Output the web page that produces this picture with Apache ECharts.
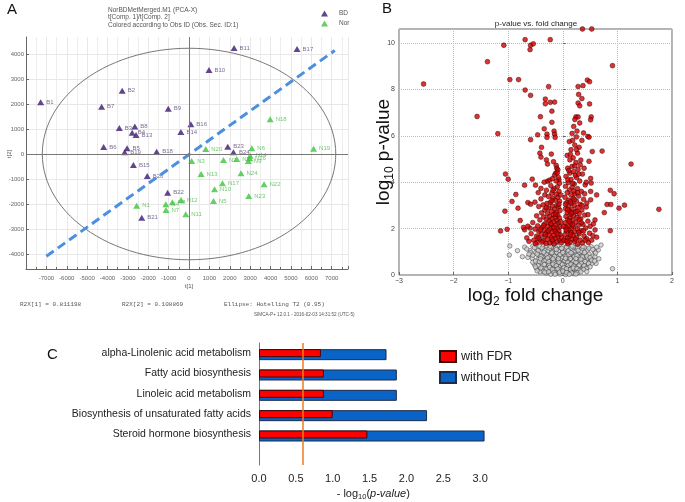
<!DOCTYPE html>
<html>
<head>
<meta charset="utf-8">
<script src="https://cdn.jsdelivr.net/npm/echarts@6/dist/echarts.min.js"></script>
<style>
html, body { margin: 0; padding: 0; background: #fff; }
#main { width: 685px; height: 502px; }
</style>
</head>
<body>
<div id="main"></div>
<script>
// ---- panel A : PCA scores ----
var bdPoints = [
	['B1', -7280, 2070], ['B2', -3280, 2530], ['B3', -3420, 1040], ['B4', -2790, 850],
	['B5', -3040, 230], ['B6', -4190, 280], ['B7', -4290, 1890], ['B8', -2660, 1100],
	['B9', -1020, 1810], ['B10', 980, 3360], ['B11', 2210, 4240], ['B19', -3160, 70],
	['B13', -2600, 760], ['B14', -400, 880], ['B15', -2730, -440], ['B16', 90, 1195],
	['B17', 5300, 4200], ['B18', -1590, 90], ['B20', -2050, -880], ['B21', -2320, -2550],
	['B22', -1050, -1550], ['B23', 1900, 290], ['B24', 2180, 70]
];
var norPoints = [
	['N1', -2570, -2070], ['N3', 130, -280], ['N5', 1200, -1880], ['N6', 3080, 230],
	['N7', -1130, -2240], ['N10', 1250, -1410], ['N11', -160, -2410], ['N12', -390, -1840],
	['N13', 590, -800], ['N14', 3000, -70], ['N17', 1640, -1170], ['N18', 3980, 1390],
	['N19', 6110, 210], ['N20', 820, 200], ['N22', 3680, -1210], ['N23', 2930, -1680],
	['N24', 2550, -770], ['N2', 1690, -240], ['N21', 2340, -200], ['N9', 2910, -280],
	['N16', 2960, -170], ['N4', -1140, -2010], ['N8', -820, -1930]
];
var diagLine = [[-7000, -4090], [7150, 4140]];
var ellipseAxes = [7200, 4230]; // Hotelling T2 (0.95)
var pcaYTicks = [-4000, -3000, -2000, -1000, 0, 1000, 2000, 3000, 4000];

// ---- panel B : volcano ----
var sigPoints = [
	[-2.55,8.23],[-1.57,6.83],[-1.38,9.19],[-1.19,6.09],[-1.08,9.9],[-0.69,10.14],[-0.59,9.9],[-0.54,9.96],
	[-0.60,9.71],[-0.23,10.14],[0.36,10.6],[0.53,10.6],[0.91,9.02],[-0.97,8.42],[-0.81,8.42],[-0.69,7.97],
	[-0.59,7.74],[-0.26,8.12],[-0.32,7.58],[-0.32,7.38],[-0.23,7.44],[-0.15,7.45],[-0.20,7.06],[0.28,8.12],
	[0.37,8.16],[0.45,8.40],[0.49,8.33],[0.29,7.78],[0.35,7.6],[0.28,7.41],[0.31,7.29],[0.49,7.37],
	[0.24,6.81],[0.28,6.81],[0.52,6.81],[0.51,6.69],[0.31,6.55],[-0.41,6.82],[-0.34,6.30],[-0.20,6.58],
	[-0.16,6.20],[-0.15,6.07],[-0.14,5.93],[-0.29,6.07],[-0.29,5.93],[-0.46,6.04],[-0.59,5.83],[-0.39,5.50],
	[-0.42,5.25],[-0.40,5.08],[-0.21,5.21],[-0.30,4.96],[-0.28,4.78],[-0.17,4.88],[-0.12,4.72],[-0.11,4.60],
	[-0.13,4.39],[-0.09,4.53],[-1.05,4.35],[-1.0,4.13],[-0.56,4.13],[-0.70,3.87],[-0.50,3.87],[-0.40,3.73],
	[-0.28,4.04],[-0.24,4.09],[-0.07,4.10],[-0.86,3.47],[-0.93,3.17],[-0.82,2.88],[-1.06,2.75],[-0.64,3.12],
	[-0.59,3.05],[-0.51,3.14],[-0.78,2.35],[-1.14,1.90],[-1.02,1.97],[0.38,6.12],[0.46,5.97],[0.48,5.94],
	[0.35,5.80],[0.54,5.32],[0.72,5.34],[1.25,4.78],[1.76,2.83],[1.03,2.88],[1.13,3.01],[0.87,3.65],
	[0.94,3.50],[0.81,3.04],[0.88,3.04],[0.76,2.69],[0.87,1.91],[0.51,4.16],[0.52,3.96],[0.51,3.60],
	[0.62,3.45],[0.51,3.24],[0.59,2.37],[0.56,2.2],[0.59,1.94],[0.62,1.63],
	[-0.15,4.3],[-0.08,4.2],[-0.19,4.15],[-0.12,4.05],[-0.34,4.0],[-0.06,3.95],
	[-0.22,3.85],[-0.1,3.8],[-0.16,3.72],[-0.3,3.65],[-0.07,3.6],[-0.45,3.55],[-0.2,3.52],[-0.12,3.48],
	[-0.33,3.45],[-0.26,3.38],[-0.09,3.35],[-0.18,3.3],[-0.4,3.28],[-0.14,3.22],[-0.06,3.18],[-0.23,3.12],
	[-0.29,3.08],[-0.36,3.02],[-0.11,3.0],[-0.19,2.97],
	[-0.44,2.95],[-0.08,2.92],[-0.26,2.88],[-0.15,2.84],[-0.33,2.8],[-0.05,2.78],[-0.21,2.74],[-0.12,2.7],
	[-0.39,2.68],[-0.28,2.64],[-0.17,2.6],[-0.09,2.57],[-0.48,2.55],[-0.24,2.52],[-0.35,2.5],
	[-0.14,2.48],[-0.06,2.45],[-0.2,2.42],[-0.3,2.4],[-0.42,2.37],[-0.11,2.35],[-0.25,2.32],[-0.17,2.28],
	[-0.55,2.26],[-0.08,2.24],[-0.33,2.2],[-0.22,2.18],[-0.13,2.15],[-0.46,2.12],[-0.28,2.1],[-0.05,2.08],
	[-0.38,2.05],[-0.18,2.03],[-0.6,2.02],[-0.1,2.0],[-0.51,1.98],
	[-0.24,1.97],[-0.34,1.94],[-0.15,1.92],[-0.07,1.9],[-0.44,1.88],[-0.2,1.85],[-0.29,1.83],[-0.12,1.8],
	[-0.58,1.78],[-0.39,1.76],[-0.05,1.74],[-0.25,1.72],[-0.17,1.7],[-0.48,1.67],[-0.33,1.65],[-0.09,1.63],
	[-0.21,1.6],[-0.14,1.57],[-0.42,1.55],[-0.28,1.53],[-0.53,1.5],[-0.06,1.48],[-0.36,1.46],[-0.19,1.44],
	[-0.11,1.42],[-0.47,1.4],[-0.24,1.38],[-0.31,1.36],[-0.16,1.34],[-0.62,1.45],[-0.66,1.6],[-0.7,1.95],
	[-0.64,2.1],[-0.72,2.05],
	[0.2,6.4],[0.17,6.1],[0.25,5.95],[0.12,5.75],[0.22,5.6],[0.3,5.5],[0.15,5.4],[0.27,5.25],[0.08,5.15],[0.19,5.05],
	[0.13,4.96],[0.17,4.68],[0.13,4.39],[0.24,4.85],[0.32,4.75],[0.09,4.6],[0.28,4.55],[0.2,4.45],[0.36,4.35],
	[0.06,4.25],[0.25,4.2],[0.15,4.12],[0.31,4.05],
	[0.1,3.98],[0.21,3.92],[0.41,3.88],[0.05,3.82],[0.17,3.78],[0.27,3.72],[0.12,3.66],[0.34,3.6],[0.08,3.55],
	[0.22,3.5],[0.15,3.45],[0.29,3.4],[0.04,3.35],[0.19,3.3],[0.38,3.26],[0.11,3.22],[0.25,3.18],[0.07,3.12],
	[0.16,3.08],[0.32,3.04],[0.21,3.0],
	[0.1,2.96],[0.43,2.93],[0.27,2.9],[0.05,2.86],[0.17,2.83],[0.35,2.8],[0.12,2.76],[0.23,2.72],[0.08,2.68],
	[0.3,2.65],[0.15,2.61],[0.4,2.58],[0.2,2.55],[0.06,2.52],[0.26,2.48],[0.13,2.45],[0.33,2.42],[0.09,2.38],
	[0.18,2.35],[0.46,2.32],[0.24,2.28],[0.04,2.25],[0.14,2.22],[0.37,2.18],[0.29,2.15],[0.1,2.12],[0.2,2.08],
	[0.06,2.05],[0.42,2.02],[0.16,2.0],
	[0.27,1.97],[0.11,1.94],[0.34,1.91],[0.07,1.88],[0.21,1.85],[0.15,1.82],[0.49,1.8],[0.3,1.77],[0.04,1.74],
	[0.19,1.71],[0.39,1.68],[0.12,1.65],[0.25,1.62],[0.08,1.59],[0.44,1.56],[0.17,1.53],[0.32,1.5],[0.05,1.47],
	[0.22,1.44],[0.13,1.41],[0.36,1.38],[0.09,1.35],[0.27,1.33],[0.47,1.4],[0.53,1.5],[0.55,1.7],[0.5,2.1],
	[0.46,2.6],[0.44,3.1],[0.4,3.5],[0.43,4.0],[0.39,4.6],[0.48,4.9],
	[-0.02,1.6],[0.01,2.1],[-0.03,1.4],[0.02,1.5],
	[-0.5,1.35],[-0.45,1.6],[-0.38,1.42],[-0.32,1.75],[-0.27,1.9],[-0.22,2.22],[-0.16,2.05],[-0.09,1.76],
	[-0.04,2.3],[-0.19,1.52],[-0.35,2.15],[-0.41,1.95],[-0.13,2.62],[-0.07,3.05],[-0.2,3.2],[-0.3,2.9],
	[-0.04,3.45],[-0.1,4.4],[-0.18,3.65],
	[0.08,1.45],[0.14,1.75],[0.18,2.15],[0.23,1.55],[0.29,1.85],[0.34,2.25],[0.38,1.9],[0.41,1.5],[0.3,2.4],
	[0.26,2.75],[0.35,3.0],[0.14,3.15],[0.09,2.82],[0.21,3.25],[0.27,3.55],[0.18,3.95],[0.23,4.3],[0.11,4.5],
	[0.33,4.95],[0.25,5.4],[0.18,5.8],[0.06,1.95],[0.12,2.32],[0.16,2.68],[0.05,3.05],[0.2,3.62],[0.09,4.1],
	[0.29,4.35],[0.22,4.7],[0.14,5.2],[0.26,6.2],[0.22,6.7]
];
var nonsigPoints = [
	[-0.55,1.25],[-0.42,1.22],[-0.3,1.27],[-0.2,1.2],[-0.1,1.25],[0.0,1.22],[0.1,1.28],[0.2,1.2],[0.3,1.25],
	[0.4,1.18],[0.52,1.22],[-0.48,1.12],[-0.36,1.1],[-0.25,1.14],[-0.15,1.08],[-0.05,1.12],[0.05,1.1],[0.15,1.15],
	[0.25,1.08],[0.35,1.12],[0.45,1.06],[-0.6,1.05],[-0.4,1.0],[-0.28,1.02],[-0.18,1.0],[-0.08,1.03],[0.02,1.0],
	[0.12,1.02],[0.22,0.98],[0.32,1.0],[0.58,1.02],
	[-0.5,0.95],[-0.33,0.93],[-0.22,0.92],[-0.12,0.95],[-0.02,0.9],[0.08,0.94],[0.18,0.9],[0.28,0.92],[0.38,0.88],
	[0.48,0.9],[-0.44,0.85],[-0.27,0.84],[-0.17,0.86],[-0.07,0.82],[0.03,0.85],[0.13,0.82],[0.23,0.86],[0.33,0.8],
	[0.55,0.82],[-0.38,0.76],[-0.21,0.75],[-0.11,0.78],[-0.01,0.74],[0.09,0.77],[0.19,0.73],[0.29,0.76],[0.42,0.74],
	[-0.56,0.72],[-0.3,0.7],
	[-0.46,0.66],[-0.24,0.66],[-0.14,0.68],[-0.04,0.64],[0.06,0.67],[0.16,0.63],[0.26,0.66],[0.36,0.62],[0.46,0.65],
	[-0.35,0.6],[-0.19,0.58],[-0.09,0.6],[0.01,0.57],[0.11,0.59],[0.21,0.56],[0.31,0.58],[0.5,0.56],[-0.4,0.52],
	[-0.27,0.5],[-0.14,0.52],[-0.04,0.49],[0.06,0.51],[0.16,0.48],[0.26,0.5],[0.4,0.47],[-0.52,0.45],[-0.21,0.43],
	[-0.09,0.44],[0.03,0.42],[0.13,0.43],[0.23,0.41],[0.34,0.44],
	[-0.38,0.38],[-0.28,0.36],[-0.16,0.37],[-0.06,0.35],[0.08,0.36],[0.18,0.34],[0.29,0.37],[0.45,0.33],[-0.33,0.3],
	[-0.22,0.28],[-0.11,0.3],[0.0,0.28],[0.11,0.29],[0.22,0.27],[0.35,0.28],[-0.44,0.24],[-0.27,0.22],[-0.15,0.23],
	[-0.03,0.21],[0.06,0.22],[0.17,0.2],[0.28,0.22],[-0.36,0.16],[-0.2,0.15],[-0.08,0.16],[0.03,0.14],[0.13,0.15],
	[0.24,0.13],[-0.3,0.09],[-0.12,0.08],[-0.01,0.07],[0.09,0.09],[0.2,0.06],[-0.22,0.03],[0.05,0.02],[-0.05,0.04],
	[-0.97,1.25],[-0.98,0.86],[-0.83,1.05],[-0.74,0.79],[-0.64,0.76],[-0.59,0.96],[-0.48,0.29],[-0.42,0.14],
	[0.61,0.5],[0.53,0.5],[0.7,1.29],[0.65,1.08],[0.59,0.79],[0.38,0.36],[0.91,0.27],[0.45,0.72],[-0.7,1.2],
	[-0.66,1.12],[0.62,1.2],[-0.55,0.55],
	[-0.52,1.18],[-0.45,1.05],[-0.38,1.16],[-0.33,1.05],[-0.23,1.24],[-0.13,1.17],[-0.02,1.15],[0.07,1.2],
	[0.17,1.24],[0.27,1.17],[0.37,1.22],[0.48,1.15],[0.55,1.1],[0.6,0.95],
	[-0.47,0.9],[-0.4,0.8],[-0.3,0.88],[-0.25,0.78],[-0.15,0.8],[-0.05,0.88],[0.06,0.8],[0.11,0.88],[0.21,0.8],
	[0.26,0.84],[0.36,0.78],[0.44,0.82],[0.5,0.75],
	[-0.5,0.6],[-0.43,0.58],[-0.31,0.64],[-0.26,0.58],[-0.17,0.62],[-0.07,0.55],[0.04,0.61],[0.09,0.54],[0.19,0.6],
	[0.24,0.54],[0.34,0.52],[0.41,0.58],[0.47,0.5],
	[-0.45,0.4],[-0.34,0.45],[-0.25,0.42],[-0.18,0.47],[-0.12,0.4],[-0.01,0.45],[0.1,0.41],[0.15,0.46],[0.2,0.38],
	[0.3,0.42],[0.39,0.4],[0.43,0.28],
	[-0.4,0.3],[-0.3,0.25],[-0.24,0.33],[-0.19,0.24],[-0.09,0.26],[0.02,0.32],[0.07,0.27],[0.14,0.24],[0.19,0.3],
	[0.26,0.28],[0.31,0.2],[0.38,0.24],
	[-0.33,0.12],[-0.26,0.14],[-0.16,0.11],[-0.06,0.12],[0.0,0.17],[0.07,0.11],[0.16,0.09],[0.27,0.1],[0.33,0.14],
	[-0.14,0.03],[0.12,0.03],[0.24,0.04],
	[-0.35,0.98],[-0.12,1.1],[0.1,1.05],[0.28,1.06],[0.4,0.97],[-0.2,0.96],[0.0,0.97],[0.15,0.96],[-0.08,0.7],
	[0.05,0.72],[0.14,0.7],[0.24,0.71],[0.33,0.68],[-0.18,0.7],[-0.28,0.74],[-0.41,0.7],[0.53,0.64],[-0.55,0.85],
	[-0.62,0.9],[0.66,0.7],[0.58,0.6],[-0.5,0.35],[0.5,0.35],[-0.47,0.18],[0.44,0.15]
];

// ---- panel C : pathways ----
var pathways = ['alpha-Linolenic acid metabolism', 'Fatty acid biosynthesis', 'Linoleic acid metabolism',
	'Biosynthesis of unsaturated fatty acids', 'Steroid hormone biosynthesis', ''];
var withFDR = [0.84, 0.88, 0.88, 1.0, 1.47, '-'];
var withoutFDR = [1.73, 1.87, 1.87, 2.28, 3.06, '-'];
var cutoff = 0.6;
var pathTicks = [0, 0.5, 1, 1.5, 2, 2.5, 3];

var chart = echarts.init(document.getElementById('main'));

function toItems(arr) {
	return arr.map(function(p) {
		return { name: p[0], value: [p[1], p[2]] };
	});
}
function plain(v) { return String(v); }

var ellipse = [];
for (var d = 0; d <= 360; d += 3) {
	var r = d * Math.PI / 180;
	ellipse.push([ellipseAxes[0] * Math.cos(r), ellipseAxes[1] * Math.sin(r)]);
}

var sans = 'Liberation Sans';

var option = {
	animation: false,
	backgroundColor: '#fff',
	legend: [{
		data: ['BD', 'Nor'],
		orient: 'vertical',
		left: 316, top: 5,
		icon: 'triangle',
		itemWidth: 7, itemHeight: 6, itemGap: 3,
		textStyle: { fontSize: 6.5, color: '#555', fontFamily: sans, padding: [0, 0, 0, 6] }
	}, {
		data: ['with FDR', 'without FDR'],
		orient: 'vertical',
		left: 434, top: 345,
		icon: 'rect',
		itemWidth: 16, itemHeight: 11, itemGap: 8,
		textStyle: { fontSize: 12.5, color: '#222', fontFamily: sans }
	}],
	grid: [
		{ left: 26, top: 37, width: 322, height: 232 },
		{ left: 399, top: 29, width: 273, height: 246, show: true, borderColor: '#666', borderWidth: 1 },
		{ left: 259, top: 343, width: 228.5, height: 124 }
	],
	xAxis: [{
		gridIndex: 0, type: 'value', min: -8000, max: 7800, interval: 1000,
		axisLine: { onZero: false, lineStyle: { color: '#666' } },
		axisTick: { inside: true, length: 3, lineStyle: { color: '#666' } },
		minorTick: { show: true, splitNumber: 2, length: 2 },
		axisLabel: { fontSize: 6, color: '#666', fontFamily: sans, showMinLabel: false, showMaxLabel: false, margin: 6, formatter: plain },
		splitLine: { show: true, lineStyle: { color: '#e2e2e2', width: 0.8 } },
		minorSplitLine: { show: true, lineStyle: { color: '#e8e8e8', width: 0.8 } }
	}, {
		gridIndex: 1, type: 'value', min: -3, max: 2, interval: 1,
		axisLine: { show: false },
		axisTick: { inside: true, length: 3, lineStyle: { color: '#666' } },
		axisLabel: { fontSize: 7, color: '#444', fontFamily: sans, margin: 3,
			formatter: function(v) { return String(v).replace('-', '\u2212'); } },
		splitLine: { show: true, lineStyle: { color: '#bbb', type: 'dotted' } },
		name: 'log{s|2} fold change', nameLocation: 'middle', nameGap: 9, nameMoveOverlap: false,
		nameTextStyle: { fontSize: 19, color: '#111', fontFamily: sans,
			rich: { s: { fontSize: 12, verticalAlign: 'bottom', padding: [12, 0, 0, 0], fontFamily: sans } } }
	}, {
		gridIndex: 2, type: 'value', min: 0, max: 3.1,
		axisLine: { lineStyle: { color: '#777' } },
		axisTick: { customValues: pathTicks, length: 4, lineStyle: { color: '#777' } },
		axisLabel: { customValues: pathTicks, fontSize: 11, color: '#222', fontFamily: sans,
			formatter: function(v) { return v.toFixed(1); } },
		splitLine: { show: false },
		name: '- log{s|10}({i|p-value})', nameLocation: 'middle', nameGap: 22,
		nameTextStyle: { fontSize: 11, color: '#222', fontFamily: sans,
			rich: { s: { fontSize: 7.5, padding: [6, 0, 0, 0], fontFamily: sans },
				i: { fontSize: 11, fontStyle: 'italic', fontFamily: sans } } }
	}],
	yAxis: [{
		gridIndex: 0, type: 'value', min: -4600, max: 4680,
		axisLine: { onZero: false, lineStyle: { color: '#666' } },
		axisTick: { customValues: pcaYTicks, inside: true, length: 3, lineStyle: { color: '#666' } },
		axisLabel: { customValues: pcaYTicks, fontSize: 6, color: '#666', fontFamily: sans, margin: 2, formatter: plain },
		splitLine: { show: true, lineStyle: { color: '#e2e2e2', width: 0.8 } }
	}, {
		gridIndex: 1, type: 'value', min: 0, max: 10.6, interval: 2,
		axisLine: { show: false },
		axisTick: { inside: true, length: 3, lineStyle: { color: '#666' } },
		axisLabel: { fontSize: 7, color: '#444', fontFamily: sans, margin: 4, showMaxLabel: false },
		splitLine: { show: true, lineStyle: { color: '#bbb', type: 'dotted' } },
		name: 'log{s|10} p-value', nameLocation: 'middle', nameGap: 3, nameRotate: 90, nameMoveOverlap: false,
		nameTextStyle: { fontSize: 19, color: '#111', fontFamily: sans,
			rich: { s: { fontSize: 12, padding: [12, 0, 0, 0], fontFamily: sans } } }
	}, {
		gridIndex: 2, type: 'category', inverse: true, data: pathways,
		axisLine: { lineStyle: { color: '#777' } },
		axisTick: { show: false },
		axisLabel: { fontSize: 10.5, color: '#222', fontFamily: sans, margin: 8 }
	}],
	series: [{
		name: 'ellipse', type: 'line', xAxisIndex: 0, yAxisIndex: 0,
		data: ellipse, symbol: 'none', silent: true,
		lineStyle: { color: '#555', width: 0.8 },
		markLine: {
			silent: true, symbol: 'none', label: { show: false },
			lineStyle: { color: '#777', width: 1, type: 'solid' },
			data: [{ xAxis: 0 }, { yAxis: 0 }]
		}
	}, {
		name: 'diag', type: 'line', xAxisIndex: 0, yAxisIndex: 0,
		data: diagLine, symbol: 'none', silent: true,
		lineStyle: { color: '#4a8fe0', width: 3, type: [9, 5] }
	}, {
		name: 'BD', type: 'scatter', xAxisIndex: 0, yAxisIndex: 0,
		data: toItems(bdPoints), symbol: 'triangle', symbolSize: [7, 6],
		itemStyle: { color: '#3b1870' },
		label: { show: true, position: 'right', distance: 2, formatter: '{b}', fontSize: 6, color: '#5a4878', fontFamily: sans }
	}, {
		name: 'Nor', type: 'scatter', xAxisIndex: 0, yAxisIndex: 0,
		data: toItems(norPoints), symbol: 'triangle', symbolSize: [7, 6],
		itemStyle: { color: '#3cc43c' },
		label: { show: true, position: 'right', distance: 2, formatter: '{b}', fontSize: 6, color: '#4cba4c', fontFamily: sans }
	}, {
		name: 'nonsig', type: 'scatter', xAxisIndex: 1, yAxisIndex: 1,
		data: nonsigPoints, symbolSize: 4.5,
		itemStyle: { color: '#cfcfcf', borderColor: '#333', borderWidth: 0.6 }
	}, {
		name: 'sig', type: 'scatter', xAxisIndex: 1, yAxisIndex: 1,
		data: sigPoints, symbolSize: 4.8,
		itemStyle: { color: '#d40000', borderColor: '#300', borderWidth: 0.6 }
	}, {
		name: 'without FDR', type: 'bar', xAxisIndex: 2, yAxisIndex: 2,
		data: withoutFDR, barWidth: 11,
		itemStyle: { color: '#0a64c8', borderColor: '#1c2c4a', borderWidth: 1 }
	}, {
		name: 'with FDR', type: 'bar', xAxisIndex: 2, yAxisIndex: 2,
		data: withFDR, barWidth: 8, barGap: '-100%',
		itemStyle: { color: '#ff0000', borderColor: '#3a0a0a', borderWidth: 1 },
		markLine: {
			silent: true, symbol: 'none', label: { show: false },
			lineStyle: { color: '#f07a20', width: 1.5, type: 'solid' },
			data: [{ xAxis: cutoff }]
		}
	}],
	graphic: [
		{ type: 'text', left: 7, top: 2, style: { text: 'A', fontSize: 15, fill: '#111', fontFamily: sans } },
		{ type: 'text', left: 382, top: 1, style: { text: 'B', fontSize: 15, fill: '#111', fontFamily: sans } },
		{ type: 'text', left: 47, top: 347, style: { text: 'C', fontSize: 15, fill: '#111', fontFamily: sans } },
		{ type: 'text', left: 108, top: 6, style: { text: 'NorBDMetMerged.M1 (PCA-X)\nt[Comp. 1]/t[Comp. 2]\nColored according to Obs ID (Obs. Sec. ID:1)',
			fontSize: 6.5, lineHeight: 7.7, fill: '#555', fontFamily: sans } },
		{ type: 'text', x: 189, y: 283, style: { text: 't[1]', fontSize: 6, fill: '#555', fontFamily: sans, align: 'center' } },
		{ type: 'text', x: 6, y: 154, rotation: Math.PI / 2, style: { text: 't[2]', fontSize: 6, fill: '#555', fontFamily: sans, align: 'center' } },
		{ type: 'text', left: 20, top: 301, style: { text: 'R2X[1] = 0.811198', fontSize: 6, fill: '#555', fontFamily: 'Liberation Mono' } },
		{ type: 'text', left: 122, top: 301, style: { text: 'R2X[2] = 0.108869', fontSize: 6, fill: '#555', fontFamily: 'Liberation Mono' } },
		{ type: 'text', left: 224, top: 301, style: { text: 'Ellipse: Hotelling T2 (0.95)', fontSize: 6, fill: '#555', fontFamily: 'Liberation Mono' } },
		{ type: 'text', left: 254, top: 312, style: { text: 'SIMCA-P+ 12.0.1 - 2016-02-03 14:31:52 (UTC-5)', fontSize: 4.6, fill: '#555', fontFamily: sans } },
		{ type: 'text', x: 536, y: 20, style: { text: 'p-value vs. fold change', fontSize: 8, fill: '#222', fontFamily: sans, align: 'center' } }
	]
};

chart.setOption(option);
</script>
</body>
</html>
